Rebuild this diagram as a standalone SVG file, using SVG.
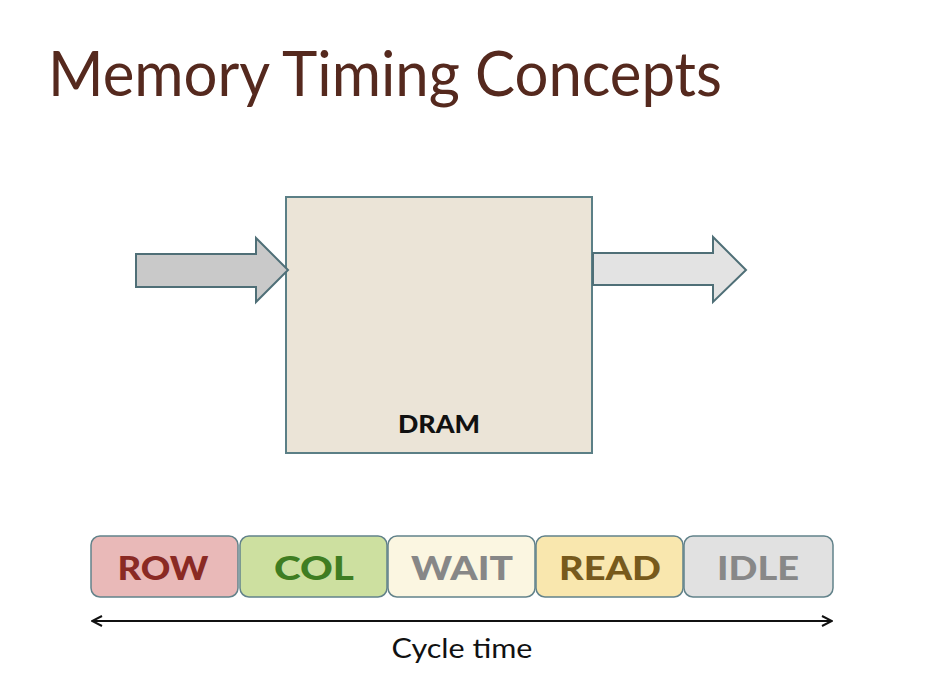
<svg xmlns="http://www.w3.org/2000/svg" width="946" height="682" viewBox="0 0 946 682">
<defs>
<style>
.title{font-family:Lato,"Open Sans","Liberation Sans",sans-serif;font-size:62px;fill:#55291e}
.lbl{font-family:Lato,"Open Sans","Liberation Sans",sans-serif;font-weight:900;font-size:32px;text-anchor:middle}
.seg{stroke:#62828a;stroke-width:1.5}
.arrow{stroke:#4f6f77;stroke-width:2;stroke-linejoin:miter}
</style>
<marker id="open" viewBox="0 0 12 12" refX="11" refY="6" markerWidth="12" markerHeight="12" markerUnits="userSpaceOnUse" orient="auto-start-reverse">
<path d="M1,1 L11,6 L1,11" fill="none" stroke="#111" stroke-width="2"/>
</marker>
</defs>
<rect width="946" height="682" fill="#ffffff"/>
<text class="title" x="48" y="96" textLength="674" lengthAdjust="spacingAndGlyphs">Memory Timing Concepts</text>

<g id="dram">
<rect x="286" y="197" width="306" height="256" fill="#ebe4d7" stroke="#5b7f86" stroke-width="2"/>
<text x="439" y="433" font-family="Lato,'Open Sans','Liberation Sans',sans-serif" font-weight="900" font-size="25" text-anchor="middle" fill="#111" textLength="82" lengthAdjust="spacingAndGlyphs">DRAM</text>
</g>

<g id="connectors">
<polygon class="arrow" fill="#c9c9c9" points="136,254 256,254 256,238 288,270 256,302 256,287 136,287"/>
<polygon class="arrow" fill="#e3e3e3" points="593,253 713,253 713,237 746,270 713,302 713,285 593,285"/>
<line x1="92" y1="621" x2="832" y2="621" stroke="#111" stroke-width="2" marker-start="url(#open)" marker-end="url(#open)"/>
</g>

<g id="row">
<rect class="seg" x="91" y="536" width="147" height="61" rx="9" fill="#e9b9b8"/>
<text class="lbl" x="163" y="580" fill="#8a2a24" textLength="91" lengthAdjust="spacingAndGlyphs">ROW</text>
</g>
<g id="col">
<rect class="seg" x="240" y="536" width="147" height="61" rx="9" fill="#cde0a0"/>
<text class="lbl" x="314" y="580" fill="#3f7d22" textLength="80" lengthAdjust="spacingAndGlyphs">COL</text>
</g>
<g id="wait">
<rect class="seg" x="388" y="536" width="147" height="61" rx="9" fill="#fbf6e1"/>
<text class="lbl" x="462" y="580" fill="#878787" textLength="102" lengthAdjust="spacingAndGlyphs">WAIT</text>
</g>
<g id="read">
<rect class="seg" x="536" y="536" width="147" height="61" rx="9" fill="#f9e7ae"/>
<text class="lbl" x="610" y="580" fill="#775a1c" textLength="102" lengthAdjust="spacingAndGlyphs">READ</text>
</g>
<g id="idle">
<rect class="seg" x="684" y="536" width="149" height="61" rx="9" fill="#e1e1e1"/>
<text class="lbl" x="758" y="580" fill="#888888" textLength="82" lengthAdjust="spacingAndGlyphs">IDLE</text>
</g>

<text x="462" y="658" font-family="Lato,'Open Sans','Liberation Sans',sans-serif" font-size="27" text-anchor="middle" fill="#111" textLength="141" lengthAdjust="spacingAndGlyphs">Cycle time</text>
</svg>
